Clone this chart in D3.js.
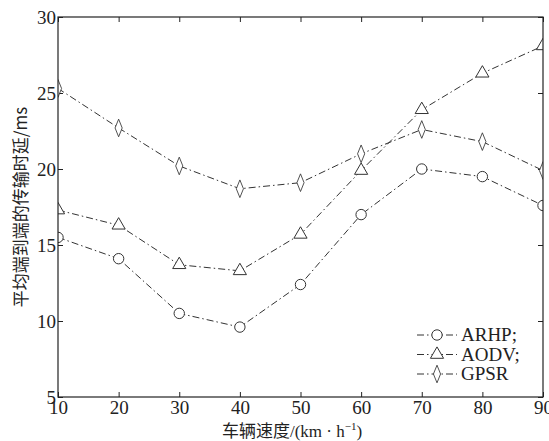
<!DOCTYPE html>
<html lang="zh">
<head>
<meta charset="utf-8">
<script src="https://d3js.org/d3.v7.min.js"></script>
<style>
body { margin: 0; background: #fff; }
.tick text { font-family: "Liberation Serif", serif; font-size: 19px; fill: #222; }
.series { fill: none; stroke: #333; stroke-width: 1; stroke-dasharray: 7,3,1.5,3; }
.mark { fill: #fff; stroke: #333; stroke-width: 1; }
</style>
</head>
<body>
<svg width="549" height="441"></svg>
<script>
var speeds = [10, 20, 30, 40, 50, 60, 70, 80, 90];
var arhp = [15.5, 14.1, 10.5, 9.6, 12.4, 17.0, 20.0, 19.5, 17.6];
var aodv = [17.3, 16.3, 13.7, 13.3, 15.7, 19.9, 23.9, 26.3, 28.1];
var gpsr = [25.3, 22.7, 20.2, 18.7, 19.1, 21.0, 22.6, 21.8, 19.9];
var xTicks = [10, 20, 30, 40, 50, 60, 70, 80, 90];
var yTicks = [5, 10, 15, 20, 25, 30];
var names = ["ARHP;", "AODV;", "GPSR"];

var svg = d3.select("svg");
var pl = 58, pr = 543, pt = 17, pb = 397;

var x = d3.scaleLinear().domain([10, 90]).range([pl, pr]);
var y = d3.scaleLinear().domain([5, 30]).range([pb, pt]);

svg.append("clipPath").attr("id", "plotclip")
  .append("rect")
  .attr("x", pl).attr("y", pt)
  .attr("width", pr - pl).attr("height", pb - pt);

// axes, ticks pointing inward
svg.append("g")
  .attr("transform", "translate(0," + pb + ")")
  .call(d3.axisBottom(x).tickValues(xTicks).tickSizeInner(-5).tickSizeOuter(0).tickPadding(3))
  .call(function(g) { g.select(".domain").remove(); });
svg.append("g")
  .attr("transform", "translate(" + pl + ",0)")
  .call(d3.axisLeft(y).tickValues(yTicks).tickSizeInner(-5).tickSizeOuter(0).tickPadding(2))
  .call(function(g) { g.select(".domain").remove(); });
svg.append("g")
  .attr("transform", "translate(0," + pt + ")")
  .call(d3.axisTop(x).tickValues(xTicks).tickSizeInner(-5).tickSizeOuter(0).tickFormat(""))
  .call(function(g) { g.select(".domain").remove(); });
svg.append("g")
  .attr("transform", "translate(" + pr + ",0)")
  .call(d3.axisRight(y).tickValues(yTicks).tickSizeInner(-5).tickSizeOuter(0).tickFormat(""))
  .call(function(g) { g.select(".domain").remove(); });
svg.selectAll(".tick line").attr("stroke", "#222");

var line = d3.line()
  .x(function(d, i) { return x(speeds[i]); })
  .y(function(d) { return y(d); });

var shapes = [d3.symbolCircle, d3.symbolTriangle, d3.symbolDiamond];
var sizes = [85, 75, 90];
var all = [arhp, aodv, gpsr];

var plot = svg.append("g").attr("clip-path", "url(#plotclip)");
all.forEach(function(s, k) {
  plot.append("path").attr("class", "series").attr("d", line(s));
  plot.selectAll(".m" + k)
    .data(s)
    .enter().append("path")
    .attr("class", "mark m" + k)
    .attr("transform", function(d, i) {
      var sc = k === 2 ? "scale(0.7,1)" : "";
      return "translate(" + x(speeds[i]) + "," + y(d) + ")" + sc;
    })
    .attr("d", d3.symbol().type(shapes[k]).size(sizes[k]));
});

svg.append("rect")
  .attr("x", pl).attr("y", pt)
  .attr("width", pr - pl).attr("height", pb - pt)
  .attr("fill", "none").attr("stroke", "#222").attr("stroke-width", 1.2);

// legend
var lg = svg.append("g");
names.forEach(function(n, k) {
  var ly = 335 + k * 19.5;
  lg.append("line").attr("class", "series")
    .attr("x1", 417).attr("x2", 457).attr("y1", ly).attr("y2", ly);
  lg.append("path").attr("class", "mark")
    .attr("transform", "translate(437," + ly + ")" + (k === 2 ? "scale(0.7,1)" : ""))
    .attr("d", d3.symbol().type(shapes[k]).size(sizes[k]));
  lg.append("text")
    .attr("x", 461).attr("y", ly + 6)
    .attr("font-family", "Liberation Serif, serif")
    .attr("font-size", 19).attr("fill", "#222")
    .text(n);
});

// axis titles
var xt = svg.append("text")
  .attr("x", 292).attr("y", 437)
  .attr("text-anchor", "middle")
  .attr("font-size", 17).attr("fill", "#222")
  .attr("font-family", "Liberation Serif, 'Noto Sans CJK SC', serif");
xt.append("tspan").attr("font-family", "Noto Sans CJK SC").text("车辆速度");
xt.append("tspan").text("/(km · h");
xt.append("tspan").attr("font-size", 11).attr("dy", -7).text("−1");
xt.append("tspan").attr("dy", 7).text(")");

svg.append("text")
  .attr("transform", "translate(27,207) rotate(-90)")
  .attr("text-anchor", "middle")
  .attr("font-size", 17).attr("fill", "#222")
  .attr("font-family", "'Noto Sans CJK SC', sans-serif")
  .text("平均端到端的传输时延/ms");
</script>
</body>
</html>
